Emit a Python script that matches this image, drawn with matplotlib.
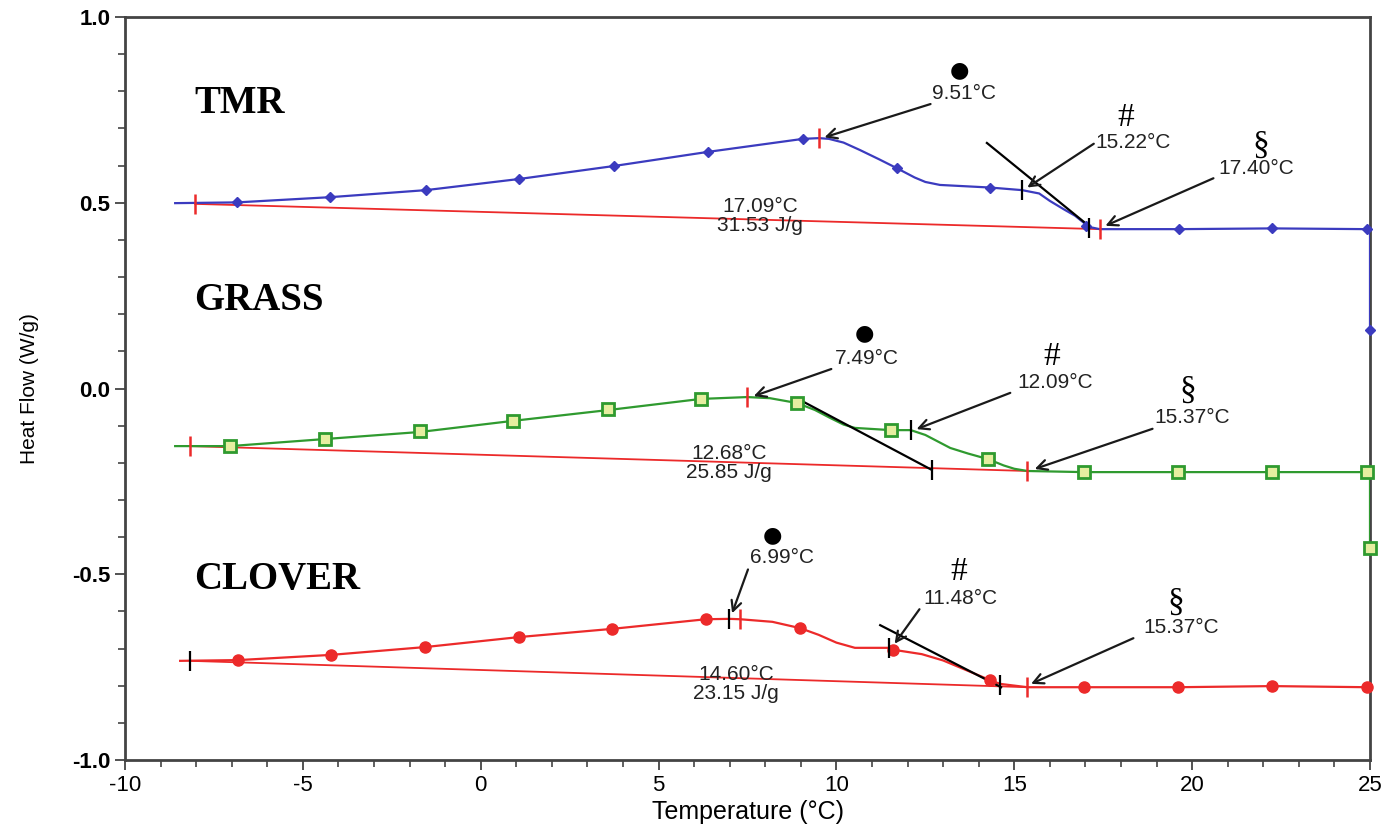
# DSC thermograms: TMR, grass and clover milk fat
import matplotlib.pyplot as plt

# TMR curve (blue)
tmr_x = [-8.59, -6.85, -4.24, -1.54, 1.08, 3.75, 6.39, 9.06, 9.51, 9.79, 10.20, 10.66, 11.20, 11.70, 12.20,
         12.50, 12.91, 14.32, 15.22, 15.70, 16.00, 16.40, 16.71, 17.10, 17.40, 19.63, 22.25, 24.92, 25.0, 25.0]
tmr_y = [0.499, 0.501, 0.515, 0.534, 0.564, 0.599, 0.637, 0.672, 0.674, 0.672, 0.662, 0.642, 0.617, 0.593,
         0.568, 0.556, 0.548, 0.541, 0.534, 0.525, 0.505, 0.482, 0.465, 0.435, 0.429, 0.429, 0.431, 0.429,
         0.429, 0.157]
tmr_mx = [-6.85, -4.24, -1.54, 1.08, 3.75, 6.39, 9.06, 11.70, 14.32, 17.02, 19.63, 22.25, 24.92, 25.0]
tmr_my = [0.501, 0.515, 0.534, 0.564, 0.599, 0.637, 0.672, 0.593, 0.541, 0.437, 0.429, 0.431, 0.429, 0.157]
tmr_base = ([-8.03, 17.40], [0.497, 0.429])
tmr_tangent = ([14.23, 17.13], [0.661, 0.435])
tmr_red_ticks = ([-8.03, 9.51, 17.40], [0.497, 0.674, 0.429])
tmr_blk_ticks = ([15.22, 17.09], [0.534, 0.432])

# GRASS curve (green)
grass_x = [-8.59, -7.05, -4.38, -1.71, 0.91, 3.58, 6.19, 7.49, 8.13, 8.89, 9.40, 9.80, 10.20, 10.52, 11.53,
           12.09, 12.50, 12.90, 13.20, 13.70, 14.26, 14.70, 15.00, 15.37, 16.96, 19.60, 22.25, 24.92, 25.0, 25.0]
grass_y = [-0.155, -0.155, -0.136, -0.117, -0.087, -0.058, -0.028, -0.023, -0.026, -0.039, -0.058, -0.078,
           -0.097, -0.106, -0.112, -0.112, -0.125, -0.145, -0.160, -0.175, -0.190, -0.207, -0.216, -0.222,
           -0.225, -0.225, -0.225, -0.225, -0.225, -0.429]
grass_mx = [-7.05, -4.38, -1.71, 0.91, 3.58, 6.19, 8.89, 11.53, 14.26, 16.96, 19.60, 22.25, 24.92, 25.0]
grass_my = [-0.155, -0.136, -0.114, -0.087, -0.055, -0.028, -0.039, -0.112, -0.190, -0.225, -0.225,
            -0.225, -0.225, -0.429]
grass_base = ([-8.17, 15.37], [-0.155, -0.222])
grass_tangent = ([8.98, 12.68], [-0.031, -0.219])
grass_red_ticks = ([-8.17, 7.49, 15.37], [-0.155, -0.023, -0.222])
grass_blk_ticks = ([12.09, 12.68], [-0.112, -0.219])

# CLOVER curve (red)
clover_x = [-8.45, -6.82, -4.21, -1.57, 1.08, 3.69, 6.33, 6.99, 7.29, 8.20, 8.98, 9.50, 10.00, 10.52,
            11.48, 11.59, 12.40, 13.00, 13.50, 14.32, 14.60, 15.37, 16.96, 19.60, 22.25, 24.92, 25.0]
clover_y = [-0.733, -0.731, -0.717, -0.696, -0.669, -0.647, -0.621, -0.620, -0.621, -0.628, -0.645,
            -0.663, -0.684, -0.698, -0.698, -0.703, -0.715, -0.732, -0.752, -0.785, -0.795, -0.804,
            -0.804, -0.804, -0.801, -0.804, -0.804]
clover_mx = [-6.82, -4.21, -1.57, 1.08, 3.69, 6.33, 8.98, 11.59, 14.32, 16.96, 19.60, 22.25, 24.92]
clover_my = [-0.731, -0.717, -0.696, -0.669, -0.647, -0.621, -0.645, -0.704, -0.785, -0.804, -0.804,
             -0.801, -0.804]
clover_base = ([-8.17, 15.37], [-0.733, -0.804])
clover_tangent = ([11.23, 14.63], [-0.637, -0.804])
clover_red_ticks = ([7.29, 15.37], [-0.620, -0.804])
clover_blk_ticks = ([-8.17, 6.99, 11.48, 14.60], [-0.733, -0.620, -0.698, -0.798])

# sample names
names = ['TMR', 'GRASS', 'CLOVER']
name_y = [0.768, 0.238, -0.515]

# temperature labels: (text, text x, text y, arrow start x, y, arrow end x, y)
temp_labels = [
    ('9.51°C', 13.59, 0.795, 12.72, 0.768, 9.59, 0.674),
    ('15.22°C', 18.34, 0.663, 17.30, 0.663, 15.30, 0.537),
    ('17.40°C', 21.80, 0.593, 20.67, 0.569, 17.49, 0.435),
    ('7.49°C', 10.86, 0.082, 9.93, 0.055, 7.60, -0.023),
    ('12.09°C', 16.14, 0.015, 14.96, -0.009, 12.18, -0.112),
    ('15.37°C', 19.99, -0.079, 18.96, -0.106, 15.50, -0.219),
    ('6.99°C', 8.47, -0.456, 7.54, -0.480, 7.04, -0.612),
    ('11.48°C', 13.50, -0.564, 12.38, -0.588, 11.59, -0.693),
    ('15.37°C', 19.69, -0.642, 18.42, -0.669, 15.40, -0.798),
]
# symbols above the labels
symbols = ['●', '#', '§', '●', '#', '§', '●', '#', '§']
symbol_xy = [(13.47, 0.857), (18.14, 0.728), (21.94, 0.655),
             (10.80, 0.149), (16.06, 0.085), (19.88, -0.004),
             (8.19, -0.394), (13.45, -0.494), (19.55, -0.577)]
# enthalpy labels
enthalpy = [('17.09°C\n31.53 J/g', 7.85, 0.465),
            ('12.68°C\n25.85 J/g', 6.98, -0.200),
            ('14.60°C\n23.15 J/g', 7.18, -0.795)]

blue = '#3b3bbf'
green = '#2f9a2f'
red = '#ec2a2a'

plt.rcParams['font.family'] = ['Liberation Sans', 'DejaVu Sans']
plt.rcParams['axes.unicode_minus'] = False
fig = plt.figure(figsize=(13.92, 8.3), dpi=100)
ax = fig.add_axes([0.0898, 0.0843, 0.8944, 0.8952])

# baselines and tangents
for bx, by in [tmr_base, grass_base, clover_base]:
    ax.plot(bx, by, color=red, lw=1.3, zorder=2)
for tx, ty in [tmr_tangent, grass_tangent, clover_tangent]:
    ax.plot(tx, ty, color='black', lw=1.6, zorder=4)

# curves
ax.plot(tmr_x, tmr_y, color=blue, lw=1.6, zorder=3)
ax.plot(tmr_mx, tmr_my, ls='none', marker='D', ms=5, color=blue, zorder=5, clip_on=False)
ax.plot(grass_x, grass_y, color=green, lw=1.6, zorder=3)
ax.plot(grass_mx, grass_my, ls='none', marker='s', ms=9, mfc='#e6eea0', mec=green, mew=2,
        zorder=5, clip_on=False)
ax.plot(clover_x, clover_y, color=red, lw=1.6, zorder=3)
ax.plot(clover_mx, clover_my, ls='none', marker='o', ms=8, color=red, zorder=5, clip_on=False)

# limit ticks
for tx, ty in [tmr_red_ticks, grass_red_ticks, clover_red_ticks]:
    ax.plot(tx, ty, ls='none', marker='|', ms=15, mew=1.8, color=red, zorder=6)
for tx, ty in [tmr_blk_ticks, grass_blk_ticks, clover_blk_ticks]:
    ax.plot(tx, ty, ls='none', marker='|', ms=15, mew=1.6, color='black', zorder=6)

# annotations
for lab, tx, ty, ax0, ay0, ax1, ay1 in temp_labels:
    ax.text(tx, ty, lab, fontsize=15, ha='center', va='center', color='#222222', zorder=7)
    ax.annotate('', xy=(ax1, ay1), xytext=(ax0, ay0),
                arrowprops=dict(arrowstyle='->', color='#1a1a1a', lw=1.6, mutation_scale=18), zorder=7)
for s, (sx, sy) in zip(symbols, symbol_xy):
    if s == '●':
        ax.text(sx, sy, s, fontsize=16, ha='center', va='center', family='DejaVu Sans')
    else:
        ax.text(sx, sy, s, fontsize=24, ha='center', va='center', family='Liberation Serif')
for lab, tx, ty in enthalpy:
    ax.text(tx, ty, lab, fontsize=15, ha='center', va='center', color='#222222', linespacing=1.0)
for n, ny in zip(names, name_y):
    ax.text(-8.05, ny, n, fontsize=28, fontweight='bold', family='Liberation Serif',
            ha='left', va='center')

ax.set_xlim(-10, 25)
ax.set_ylim(-1.0, 1.0)
ax.set_xticks(range(-10, 26, 5))
ax.set_xticks(range(-10, 26, 1), minor=True)
ax.set_yticks([-1.0, -0.5, 0.0, 0.5, 1.0])
ax.set_yticks([i / 10 for i in range(-10, 11)], minor=True)
ax.set_yticklabels(['-1.0', '-0.5', '0.0', '0.5', '1.0'], fontweight='bold')
ax.tick_params(which='major', length=7, width=1.3, labelsize=16, color='#444444')
ax.tick_params(which='minor', length=5, width=1.2, color='#444444')
ax.set_xlabel('Temperature (°C)', fontsize=18, labelpad=3)
ax.set_ylabel('Heat Flow (W/g)', fontsize=15, labelpad=24)
for sp in ax.spines.values():
    sp.set_color('#444444')
    sp.set_linewidth(2)

fig.savefig('out.png', dpi=100)
